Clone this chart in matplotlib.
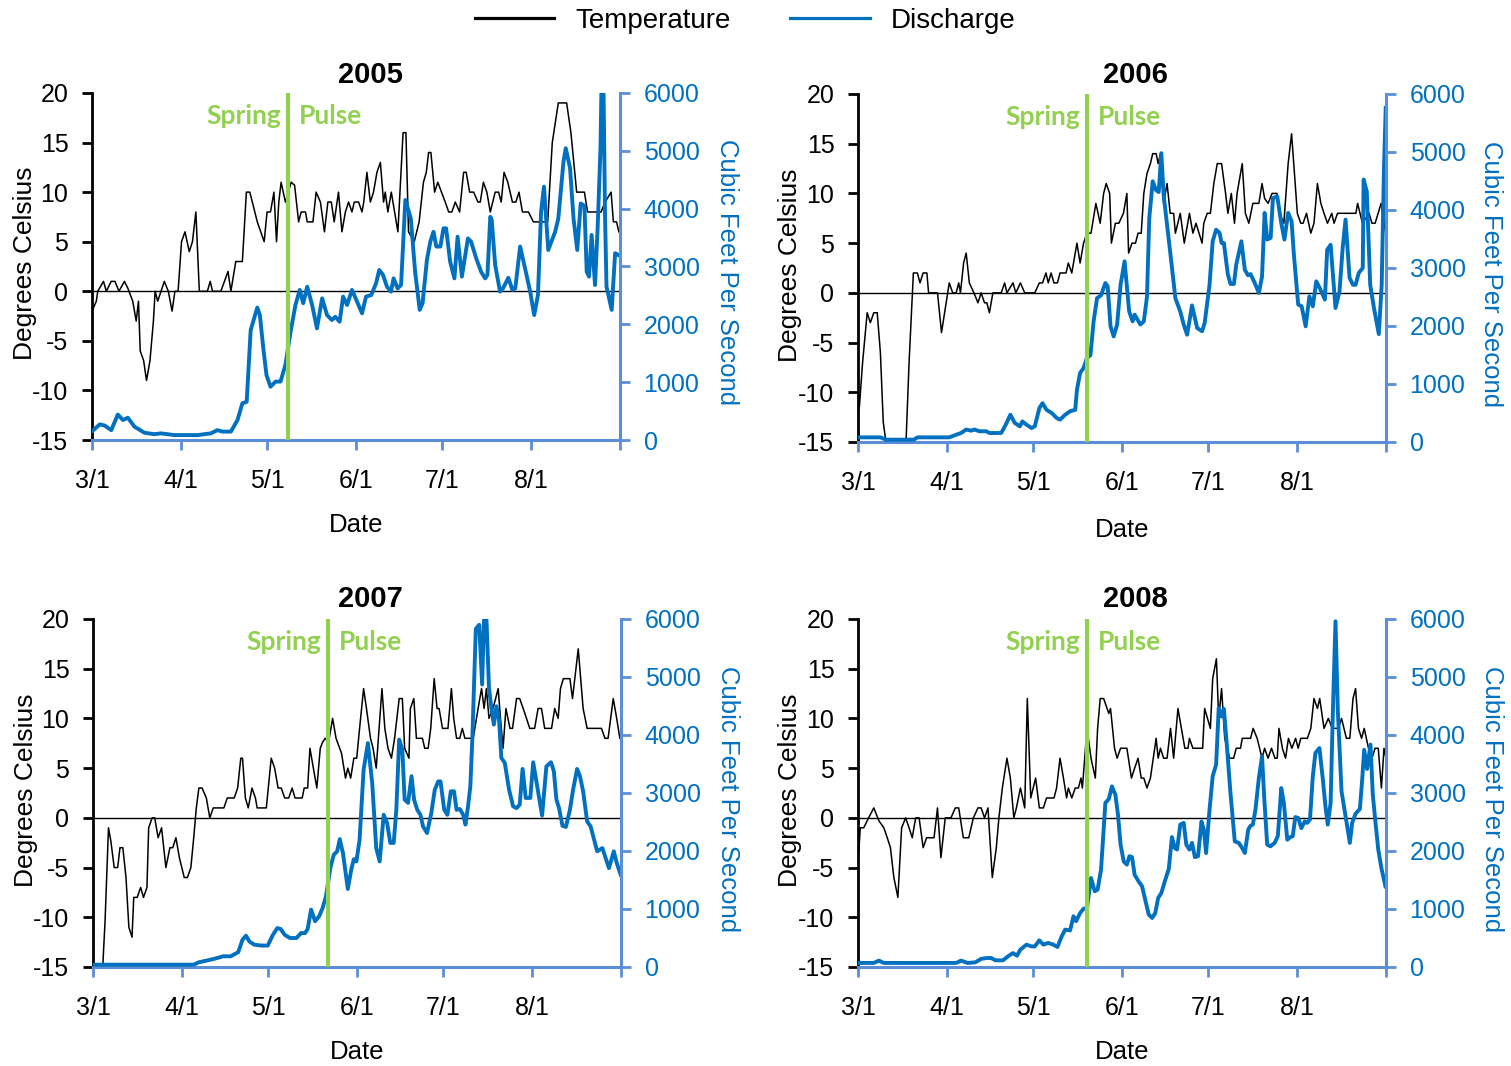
import matplotlib.pyplot as plt
import matplotlib.transforms as mtransforms
from matplotlib.lines import Line2D

plt.rcParams['font.family'] = ['Liberation Sans', 'DejaVu Sans']
plt.rcParams['axes.unicode_minus'] = False

# ---- data (day 0 = 3/1) ----
month_days = [0, 31, 61, 92, 122, 153, 184]
month_labels = ['3/1', '4/1', '5/1', '6/1', '7/1', '8/1', '']

# 2005
temp05_day = [0, 1.5, 2, 4, 5, 6.7, 8, 9.4, 11.3, 12.5, 14.2, 15.4, 16.2, 16.8, 18, 19, 20.2, 21.4, 22, 22.9,
              25.2, 26.6, 27.9, 28.9, 30, 31.2, 32.4, 33.9, 35, 36.2, 37.4, 40.2, 41.2, 42, 44.9, 47.4, 48.4,
              50.1, 52.4, 53.8, 55, 57.6, 60, 61, 62.2, 63.4, 64.3, 65.1, 65.9, 67.4, 69.4, 70.6, 72, 72.9,
              74.4, 75, 77, 78.1, 79.6, 81, 82.2, 83.4, 84.4, 85.9, 87.1, 88.3, 89.4, 90.6, 91.4, 92.9, 94.1,
              94.7, 95.8, 97, 98.1, 99.3, 100.5, 101.6, 102.2, 103.1, 104.3, 106.6, 108.4, 109.4, 110.3, 112.3,
              114, 115.5, 116.5, 117.3, 118.1, 119.4, 120.5, 123.1, 124.3, 125.4, 126.6, 128.1, 129.5, 130.4,
              131.6, 133, 134.5, 135.3, 136.4, 137.6, 138.8, 140.5, 141.7, 142.6, 143.6, 144.9, 146.5, 147.7,
              148.8, 150, 152.1, 153.8, 158.8, 160.4, 162.5, 165.4, 166.9, 168.9, 171.6, 172.7, 177.4, 178.8,
              180.9, 181.7, 182.8, 183.6]
temp05 = [-2, -1, 0, 1, 0, 1, 1, 0, 1, 0.3, -1, -3, -1, -6, -7, -9, -7, -3, 0, -1,
          1, 0, -2, 0, 0, 5, 6, 4, 5, 8, 0, 0, 1, 0, 0, 2, 0,
          3, 3, 10, 10, 7, 5, 8, 8, 10, 5, 9, 11, 9, 11, 10.7, 7, 8,
          8, 7, 7, 10, 9, 6, 9, 9, 7, 10, 6, 8, 9, 8, 9, 9, 8,
          9, 12, 9, 10, 12, 13, 9, 10, 8, 10, 6, 16, 16, 6, 5,
          7, 11, 12, 14, 14, 10, 11, 9, 8, 8, 9, 8, 12, 12,
          10, 10, 9, 9, 11, 10, 8, 10, 10, 9, 12, 11, 9, 9,
          10, 8, 8, 7, 7, 15, 19, 19, 16, 10, 10, 8, 8, 9,
          10, 7, 7, 6]
flow05_day = [0, 2.7, 4.4, 6.7, 9, 10.8, 12.5, 14.8, 18.3, 21.7, 24, 28.7, 36.8, 41.4, 43.7, 45.5, 48.4, 50.7,
              52.4, 53.9, 55.3, 57.6, 58.5, 59.7, 60.8, 62.2, 64, 65.7, 67.4, 69.2, 70.9, 72.4, 73.6, 75, 76.7,
              78.4, 80.2, 81.9, 83.6, 84.8, 86.3, 87.5, 88.9, 90.6, 92.3, 94.1, 95.5, 97.3, 99, 100.1, 101.4,
              102.8, 104.2, 105.1, 106.5, 107.7, 109.2, 111.1, 112.6, 114.2, 115.2, 116.7, 117.9, 119, 120,
              121.4, 122.5, 123.4, 124.8, 126.3, 127.4, 128.9, 131, 132.1, 133.9, 135.6, 137, 137.8, 138.8,
              139.3, 140.5, 142.2, 143.2, 145.1, 146.5, 147.5, 149.2, 150.9, 152.7, 154.1, 155.4, 156.5, 157.5,
              159, 161.4, 162.5, 164.3, 165.1, 166.6, 167.8, 169.1, 170.3, 171.6, 172.4, 173.2, 174.1, 175.3,
              176.2, 177.2, 177.6, 178.2, 178.8, 179.3, 181.1, 182.3, 183.4]
flow05 = [150, 270, 250, 170, 440, 345, 385, 230, 125, 100, 115, 85, 85, 115, 170, 145, 145, 345,
          635, 660, 1900, 2290, 2160, 1585, 1125, 920, 1010, 1010, 1300, 1870, 2335, 2595, 2365, 2650, 2335,
          1930, 2450, 2160, 2075, 2130, 2045, 2480, 2335, 2595, 2400, 2190, 2480, 2505, 2710, 2940, 2855,
          2650, 2565, 2795, 2620, 2680, 4150, 3830, 2910, 2250, 2365, 3110, 3430, 3600, 3345,
          3345, 3660, 3660, 3085, 2795, 3515, 2825, 3485, 3430, 3140, 2910, 2795, 2855, 3860,
          3805, 3025, 2565, 2620, 2805, 2595, 2620, 3345, 2970, 2565, 2160, 2505, 3950, 4380,
          3285, 3600, 3830, 4810, 5045, 4700, 3830, 3285, 4090, 4050, 2910, 2825, 3545, 2680,
          3660, 5045, 6300, 6300, 3830, 2650, 2250, 3230, 3200]

# 2006
temp06_day = [0, 0.5, 1.6, 3.2, 4.3, 5.5, 6.7, 7.8, 8.8, 10.2, 16.6, 17.8, 19.3, 20.7, 21.6, 22.7, 24, 24.6,
              27.7, 29.1, 31.8, 33, 34.2, 35.1, 35.7, 36.8, 37.7, 38.8, 40.4, 41.8, 42.9, 44.1, 44.9, 45.8, 47,
              49.9, 51.1, 51.9, 54, 55, 56.6, 58.1, 61.6, 63.2, 64.3, 65.5, 66.3, 67.3, 68.3, 69.5, 70.4, 72.5,
              73.3, 74.5, 76.3, 77.4, 78.6, 79.8, 81.2, 82.9, 84.4, 85.6, 86.5, 87.7, 88.3, 89.7, 90.9, 92.5,
              93.7, 94.3, 95.5, 96.7, 97.6, 98.7, 99.6, 100.7, 101.9, 102.7, 103.9, 104.6, 105.4, 106.5, 107.7,
              108.8, 110, 110.6, 112.3, 113.7, 115.5, 116.7, 117.8, 119.9, 120.5, 121.7, 122.8, 124, 125.2,
              126.7, 128.1, 128.9, 130.1, 131.2, 132.1, 133.9, 135, 136.2, 137.6, 139.7, 140.8, 141.7, 142.9,
              144.3, 146, 146.9, 148.4, 149.9, 151.1, 153.1, 154.3, 155.1, 156.3, 157.8, 158.9, 160.1, 161.3,
              162.4, 163.6, 165.1, 165.9, 167.1, 173.5, 174.1, 175.8, 178.1, 179.1, 180.2, 182.3, 183.9]
temp06 = [-12, -11.4, -7, -2, -3, -2, -2, -6, -13, -16, -16, -7, 2, 2, 1, 2, 2, 0,
          0, -4, 1, 0, 0, 1, 0, 3, 4, 1, 0, -1, 0, -1, -1, -2, 0,
          0, 1, 0, 1, 0, 1, 0, 0, 1, 1, 2, 1, 2, 1, 1, 2, 2,
          3, 2, 5, 3, 5, 6, 6, 9, 7, 10, 11, 10, 5, 7, 7, 8,
          10, 4, 5, 5, 6, 6, 10, 12, 13, 14, 14, 13, 14, 9, 11,
          8, 8, 6, 8, 5, 8, 6, 7, 5, 7, 8, 8, 11, 13,
          13, 10, 8, 10, 7, 10, 13, 8, 7, 9, 9, 11, 9.5, 9,
          10, 10, 8, 7, 13, 16, 8, 7, 7, 8, 6, 7, 11, 9,
          8, 7, 8, 7, 8, 8, 9, 7, 8, 7, 7, 9, 6]
flow06_day = [0, 7.8, 9.8, 19.5, 20.7, 31.8, 34.2, 35.9, 37.7, 39.4, 40.6, 42.3, 44.7, 45.8, 49.9, 51.5, 53.1,
              54.6, 56.4, 57.3, 58.7, 60.5, 61.6, 63.2, 64.3, 65.7, 67.5, 69.2, 70.4, 72.2, 73.9, 75.7, 76.3,
              77.4, 78.6, 79.8, 81, 82.1, 83.3, 84.7, 86.2, 87, 88, 89.1, 90.3, 91.5, 92.9, 94.5, 95.7, 96.4,
              98.4, 99.6, 100.7, 101.5, 102.7, 103.9, 104.8, 105.7, 106.5, 107.7, 108.9, 110.6, 112.3, 113.5,
              114.7, 116.4, 118.2, 119.9, 120.8, 122.5, 123.6, 124.8, 126, 126.7, 127.5, 128.9, 129.8, 131,
              131.8, 133.6, 134.8, 135.9, 136.8, 138, 139.7, 140.8, 141.7, 142.6, 143.8, 144.6, 146.1, 147.5,
              148.6, 149.9, 151.1, 151.9, 153.4, 154.6, 156, 157.3, 158.5, 159.7, 160.9, 162.7, 163.5, 164.7,
              166.4, 167.8, 168.9, 169.9, 171.3, 172.5, 173.4, 174.5, 175.9, 176.2, 177.3, 178.5, 179.8, 181.5,
              182.5, 183.3, 183.9]
flow06 = [80, 80, 40, 40, 80, 80, 125, 155, 215, 195, 215, 185, 185, 155, 155, 300, 470,
          330, 270, 355, 300, 240, 270, 585, 670, 555, 500, 415, 385, 470, 530, 555, 900,
          1190, 1275, 1450, 1495, 2080, 2480, 2530, 2740, 2685, 1995, 1820, 2025, 2710, 3115, 2250, 2080, 2195,
          2025, 2080, 2500, 3860, 4495, 4340, 4310, 4980, 4265, 3745, 3230, 2480, 2250, 2025,
          1850, 2355, 1965, 1910, 2050, 2710, 3460, 3660, 3605, 3430, 3430, 2885, 2725, 2725,
          3055, 3460, 2970, 2875, 2895, 2770, 2570, 2855, 3950, 3490, 3520, 4205, 4235, 3775,
          3490, 3950, 3805, 3230, 2370, 2340, 1995, 2510, 2340, 2770, 2655, 2455, 3315, 3400,
          2310, 2600, 3345, 3835, 2830, 2710, 2710, 2915, 3000, 4525, 4320, 2710, 2310, 1860,
          2710, 4725, 5760]

# 2007
temp07_day = [0, 3.3, 4.2, 5.4, 6.2, 7.4, 8.6, 9.4, 10.4, 11.5, 12.5, 13.6, 14.2, 15.4, 16.6, 17.6, 18.8, 19.4,
              20.6, 21.5, 22.7, 23.9, 25.4, 26.8, 27.8, 28.9, 30.1, 31.8, 32.9, 34.1, 35.1, 36, 36.9, 38, 39.5,
              40.7, 41.9, 45.6, 46.8, 49.2, 50.4, 51.5, 52.1, 53.1, 54.1, 55.4, 56.6, 57.2, 60.4, 62.1, 63.3,
              64.5, 65.6, 66.8, 68.2, 69.4, 70.4, 72.9, 73.6, 74.8, 75.6, 76.8, 78, 79.2, 80, 80.9, 82.1, 83.5,
              84.7, 86.6, 88, 88.8, 89.8, 90.9, 91.9, 92.9, 94.3, 95.3, 96.7, 97.6, 98.7, 99.7, 100.7, 101.7,
              102.8, 104, 105.1, 106.7, 107.8, 108.6, 110.1, 110.6, 111.8, 112.7, 114.8, 115.6, 116.8, 117.7,
              118.9, 119.9, 120.6, 121.8, 123.7, 124.9, 125.7, 126.7, 127.8, 128.7, 129.6, 132.5, 134.2, 135.4,
              136.3, 137.1, 138, 139.4, 141.2, 142, 142.9, 143.9, 145.3, 146.2, 147.6, 148.7, 150.5, 152.2,
              153.9, 155.1, 156.3, 157.4, 159.8, 160.9, 162.1, 162.9, 163.9, 166.2, 167.1, 169.1, 170.8, 172.2,
              177.2, 178.4, 179.5, 181.3, 182.5, 183.6]
temp07 = [-15.5, -15.5, -10.4, -1, -2.3, -5, -5, -3, -3, -6, -11, -12, -8, -8, -7, -8, -7, -1,
          0, 0, -2, -1, -5, -3, -3, -2, -4, -6, -6, -5, -2, 1, 3, 3, 2,
          0, 1, 1, 2, 2, 3, 6, 6, 2, 1, 3, 2, 1, 1, 6, 5,
          3, 3, 2, 2, 3, 2, 2, 3, 3, 7, 5, 3, 7, 7.6, 8, 7.6, 10,
          8, 6.5, 4, 5, 4, 6, 6, 9, 13, 11, 8, 7, 5, 9, 13, 9,
          7, 6, 8, 12, 12, 7, 6, 11, 12, 8, 8, 7, 7, 9,
          14, 11, 11, 9, 9, 13, 10, 8, 8, 9, 8, 8, 11, 13,
          11, 13, 10, 11, 13, 10, 7, 11, 9, 9, 12, 12, 10.5, 9,
          9, 11, 11, 9, 9, 11, 10, 13, 14, 14, 12, 17, 11, 9,
          9, 8, 8, 12, 10, 8]
flow07_day = [0, 35.1, 36.8, 38.6, 40.9, 43.3, 45.4, 48, 50.6, 52.1, 53.3, 54.5, 56.2, 58.6, 60.9, 62.7, 64.2,
              65.4, 66.8, 68.6, 70.9, 72.5, 73.9, 74.8, 76, 77.4, 78.8, 80, 81.2, 82.7, 83.9, 85.1, 86, 87.1,
              88.8, 90, 90.9, 91.8, 92.9, 94.3, 95.8, 97.3, 98.7, 99.9, 101.3, 102.5, 103.6, 104.8, 105.7, 106.7,
              107.8, 108.6, 109.8, 111, 111.9, 113, 114.1, 115, 116.4, 117.9, 119.1, 120.3, 121.1, 122.4, 123.5,
              124.7, 125.8, 126.7, 127.8, 129, 129.8, 130.7, 131.5, 132.2, 133.4, 134.6, 135.6, 136.3, 137.1, 138,
              138.9, 139.7, 140.6, 141.5, 142.3, 143.5, 145, 146.4, 147.6, 148.7, 149.7, 150.8, 152.4, 153.4,
              154.8, 156.5, 158, 159.6, 160.6, 161.5, 162.4, 163.6, 164.8, 166.2, 167.3, 168.7, 169.7, 170.8,
              172.2, 173.4, 175.7, 177.5, 179.8, 181.5, 182.5, 183.9]
flow07 = [40, 40, 80, 100, 125, 155, 185, 185, 255, 470, 540, 440, 385, 370, 370, 555, 670,
          655, 555, 500, 500, 585, 585, 655, 990, 790, 875, 1015, 1220, 1705, 1935, 1995, 2205, 1965,
          1345, 1680, 1860, 1820, 2195, 3400, 3860, 3170, 2050, 1820, 2625, 2480, 2140, 2140, 2710, 3920,
          3745, 2885, 2830, 3290, 2885, 2710, 2625, 2425, 2310, 2655, 3055, 3200, 3200, 2710, 2625,
          3030, 3030, 2710, 2725, 2625, 2455, 2770, 3115, 3950, 5830, 5900, 4870, 6045, 6015, 4810,
          4435, 4180, 4495, 4265, 3605, 3520, 3055, 2770, 2740, 2800, 3415, 2915, 2915, 3530,
          3115, 2610, 3460, 3530, 3375, 2885, 2740, 2435, 2415, 2710, 3055, 3415, 3290, 3030,
          2510, 2425, 1995, 2050, 1705, 1995, 1795, 1590]

# 2008
temp08_day = [0, 0.8, 2, 3.7, 5.5, 7.3, 9, 10.2, 11.3, 12.5, 13.9, 15.2, 16.6, 17.8, 18.9, 20.1, 21.3, 22.7,
              23.9, 26.5, 27.7, 28.9, 30.4, 32.4, 33.9, 35.1, 36.7, 38.6, 40.2, 41.8, 42.9, 44.1, 45.3, 46.8,
              48.2, 49.1, 50.3, 51.9, 53.1, 54.3, 55.2, 56.6, 58.1, 59, 60.2, 61.9, 63.2, 64.6, 65.7, 68.3, 69.2,
              70.4, 71.6, 72.7, 73.3, 74.5, 75.7, 76.8, 77.7, 78.2, 79.8, 81.2, 82.7, 83.5, 84.4, 85.6, 87.4, 88,
              89.4, 90.3, 91.5, 92.9, 93.7, 95.3, 96.4, 97.6, 98.7, 99.6, 100.7, 101.9, 103.9, 104.6, 105.4,
              106.5, 107.7, 108.9, 110, 111.5, 113.9, 115, 115.5, 116.7, 120.1, 120.8, 122.8, 123.6, 124.9,
              125.7, 126.7, 127.8, 129.5, 130.9, 131.8, 133.3, 133.9, 136.8, 137.7, 139.1, 140.8, 141.7, 142.9,
              144.1, 145.3, 146.1, 146.7, 147.9, 149, 150, 151.2, 152.5, 153.4, 154.3, 156.6, 157.8, 158.9,
              160.1, 160.9, 162.4, 163.9, 165.3, 167.4, 168.5, 170.2, 171.4, 172.5, 173.4, 174.4, 175.5, 176.4,
              177.9, 179.1, 180.2, 181.3, 182.4, 183.3, 184]
temp08 = [-4.6, -1, -1, 0, 1, -0.3, -1, -2, -3, -6, -8, -1, 0, -1, -2, 0, 0, -3,
          -2, -2, 1, -4, 0, 0, 1, 1, -2, -2, 0, 1, 1, 0, 1, -6,
          -3, 0, 3, 6, 4, 0, 1, 3, 1, 12, 2, 4, 1, 1, 2, 2, 3,
          6, 4, 2, 3, 2, 3, 3, 4, 3, 9, 6, 4, 9, 12, 12, 10.5, 11,
          7, 6, 7, 7, 7, 4, 5, 6, 4, 4, 3, 4, 8, 6, 7,
          6, 6, 9, 6, 11, 7, 7, 8, 7, 7, 11, 9, 14, 16,
          10, 13, 8, 6, 6, 7, 7, 8, 8, 9, 8, 6, 7, 6,
          7, 6, 6, 9, 7, 6, 8, 7, 8, 7, 8, 8, 9, 12,
          11, 12, 9, 10, 9, 9, 10, 8, 8, 12, 13, 9, 8, 9,
          7, 6, 7, 7, 3, 7, 6]
flow08_day = [0, 5.5, 7.3, 9, 34.2, 35.9, 38.2, 40.9, 42.9, 44.9, 46.4, 47.9, 50.5, 52.3, 54, 55.4, 56.6, 58.7,
              60.5, 61.6, 63.2, 64.6, 66.3, 68.1, 69.5, 71, 72.2, 73.9, 75.1, 76, 77.4, 78.6, 79.8, 81.2, 82.5,
              83.5, 84.7, 86.2, 87.4, 88.5, 89.7, 90.6, 91.5, 92.6, 93.7, 94.6, 95.5, 96.4, 97.8, 99, 100.1,
              101.3, 102.5, 103.6, 104.6, 105.7, 106.9, 108.3, 109.4, 110.4, 111.2, 112.3, 113.5, 114.4, 115.5,
              116.4, 117.4, 118.5, 119.7, 120.5, 121.3, 122.5, 123.6, 124.8, 125.7, 126.7, 127.5, 128.3, 129.8,
              131.3, 132.7, 133.9, 134.8, 136, 136.8, 137.6, 138.5, 139.7, 140.8, 141.6, 142.6, 143.7, 145.2,
              146.3, 147.5, 148.4, 149.6, 150.7, 151.5, 152.4, 153.4, 154.5, 155.7, 156.5, 157.5, 158.5, 159.4,
              160.8, 162, 162.9, 163.7, 164.7, 165.5, 166.4, 167.2, 168.5, 169.9, 171.4, 172.2, 173.4, 174.9,
              175.7, 176.4, 177.4, 178.6, 179.4, 180.3, 181.3, 182.4, 183.8]
flow08 = [70, 70, 110, 70, 70, 110, 70, 80, 140, 155, 155, 115, 115, 185, 240, 195, 300, 385,
          355, 355, 460, 385, 415, 385, 345, 530, 645, 630, 875, 790, 930, 1005, 1015, 1535, 1305,
          1335, 1680, 2830, 2895, 3115, 2970, 2625, 2110, 1820, 1765, 1910, 1895, 1590, 1475, 1390, 1160,
          905, 845, 930, 1190, 1275, 1475, 1690, 2240, 2050, 2025, 2455, 2485, 2110, 2025,
          2140, 1895, 1910, 2510, 2370, 1965, 2710, 3290, 3490, 4465, 4320, 4450, 3975, 3000,
          2165, 2140, 2050, 1965, 2370, 2435, 2455, 2710, 3260, 3630, 2885, 2110, 2080, 2140,
          2255, 3085, 2830, 2195, 2240, 2255, 2585, 2570, 2395, 2510, 2485, 2540, 3290, 3690,
          3775, 3230, 2770, 2455, 2830, 4435, 5960, 4435, 3030, 2595, 2140, 2485, 2645, 2725,
          3230, 3745, 3415, 3835, 2970, 2510, 2025, 1705, 1390]

years = ['2005', '2006', '2007', '2008']
pulse_days = [68.2, 79.8, 81.9, 79.8]

# ---- layout (pixels) ----
W, H = 1511, 1066
BLUE = '#0070c0'
AXBLUE = '#5b8ed6'
GREEN = '#92d050'

def fx(px):
    return px / W

def fy(py):
    return 1 - py / H

# x0, x1, ytop, ybot, title_x, title_y, left_lbl_x, right_lbl_x, date_y
boxes = [
    (92, 620, 93, 440, 370, 75, 25, 727, 525),
    (858, 1386, 94, 442, 1135, 75, 790, 1491, 530),
    (93, 621, 619, 967, 370, 599, 26, 728, 1052),
    (858, 1386, 619, 967, 1135, 599, 790, 1492, 1052),
]
series = [
    (temp05_day, temp05, flow05_day, flow05),
    (temp06_day, temp06, flow06_day, flow06),
    (temp07_day, temp07, flow07_day, flow07),
    (temp08_day, temp08, flow08_day, flow08),
]

fig = plt.figure(figsize=(W / 100, H / 100), dpi=100)

for year, pulse, box, (tday, temp, qday, flow) in zip(years, pulse_days, boxes, series):
    x0, x1, yt, yb, tx, ty, llx, rlx, dy = box
    ax = fig.add_axes([fx(x0), fy(yb), (x1 - x0) / W, (yb - yt) / H])
    ax.plot(tday, temp, color='black', lw=1.1)
    ax.axhline(0, color='black', lw=1.0)
    ax.set_xlim(0, 184)
    ax.set_ylim(-15, 20)
    ax.set_yticks(range(-15, 21, 5))
    ax.set_xticks(month_days)
    ax.set_xticklabels(month_labels)
    ax.spines['top'].set_visible(False)
    ax.spines['right'].set_visible(False)
    ax.spines['left'].set_linewidth(2)
    ax.spines['bottom'].set_linewidth(2.2)
    ax.spines['bottom'].set_color(AXBLUE)
    ax.tick_params(axis='y', direction='out', length=7, width=2, labelsize=18, pad=10)
    ax.tick_params(axis='x', direction='out', length=7, width=2, color=AXBLUE, labelsize=18, pad=14)

    ax2 = ax.twinx()
    ax2.plot(qday, flow, color=BLUE, lw=2.8)
    ax2.set_ylim(0, 6000)
    ax2.set_yticks(range(0, 6001, 1000))
    for s in ['top', 'left', 'bottom']:
        ax2.spines[s].set_visible(False)
    ax2.spines['right'].set_color(AXBLUE)
    ax2.spines['right'].set_linewidth(2.2)
    ax2.tick_params(axis='y', direction='out', length=7, width=2, color=AXBLUE,
                    labelcolor=BLUE, labelsize=18, pad=10)

    # spring pulse marker
    ax2.axvline(pulse, color=GREEN, lw=3, zorder=5)
    trans = mtransforms.blended_transform_factory(ax2.transData, ax2.transAxes)
    ylab = 1 - 23 / (yb - yt)
    ax2.annotate('Spring', xy=(pulse, ylab), xycoords=trans, xytext=(-7, 0),
                 textcoords='offset pixels', ha='right', va='center', color=GREEN,
                 fontsize=19, fontweight='bold', family='Lato')
    ax2.annotate('Pulse', xy=(pulse, ylab), xycoords=trans, xytext=(11, 0),
                 textcoords='offset pixels', ha='left', va='center', color=GREEN,
                 fontsize=19, fontweight='bold', family='Lato')

    cy = (yt + yb) / 2
    fig.text(fx(tx), fy(ty), year, ha='center', va='center', fontsize=21, fontweight='bold')
    fig.text(fx(llx), fy(cy - 3), 'Degrees Celsius', rotation=90, ha='center', va='center', fontsize=19)
    fig.text(fx(rlx), fy(cy + 6), 'Cubic Feet Per Second', rotation=270, ha='center', va='center',
             fontsize=18.5, color=BLUE)
    fig.text(fx((x0 + x1) / 2), fy(dy), 'Date', ha='center', va='center', fontsize=18.5)

handles = [Line2D([], [], color='black', lw=2.3), Line2D([], [], color=BLUE, lw=2.3)]
fig.legend(handles, ['Temperature', 'Discharge'], loc='center', bbox_to_anchor=(fx(745), fy(21)),
           ncol=2, frameon=False, fontsize=20, handlelength=2.86, handletextpad=0.75,
           columnspacing=2.15)

fig.savefig('out.png', dpi=100)
